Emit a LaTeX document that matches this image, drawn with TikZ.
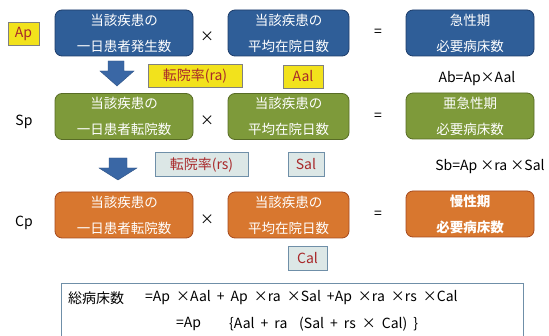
\documentclass[tikz,border=0pt]{standalone}
\usepackage{fontspec}
\setmainfont{Noto Sans CJK JP}
\definecolor{bfill}{HTML}{2F5E98}
\definecolor{bdraw}{HTML}{1E3D6A}
\definecolor{gfill}{HTML}{7E9A3A}
\definecolor{gdraw}{HTML}{586C26}
\definecolor{ofill}{HTML}{D8772F}
\definecolor{odraw}{HTML}{A54A1E}
\definecolor{yfill}{HTML}{F2E21C}
\definecolor{lfill}{HTML}{DCE7E6}
\definecolor{ldraw}{HTML}{6F8FA8}
\definecolor{tred}{HTML}{A8282A}
\definecolor{arr}{HTML}{3A67A5}
\newcommand\myWideSpace{\spaceskip=6pt\relax}
\begin{document}
\begin{tikzpicture}[x=1pt,y=-1pt,
  box/.style={rounded corners=7pt, line width=0.8pt, text=white, align=center,
    font=\fontsize{13.5}{26}\selectfont, inner sep=0pt, minimum height=46pt},
  bbox/.style={box, fill=bfill, draw=bdraw},
  gbox/.style={box, fill=gfill, draw=gdraw},
  obox/.style={box, fill=ofill, draw=odraw},
  w1/.style={minimum width=138pt},
  w2/.style={minimum width=121pt},
  w3/.style={minimum width=128pt},
  op/.style={font=\fontsize{14}{14}\selectfont, inner sep=0pt},
  lab/.style={font=\fontsize{14}{14}\selectfont, inner sep=0pt},
  form/.style={font=\fontsize{14}{14}\selectfont, inner sep=0pt, anchor=west},
  ytag/.style={fill=yfill, draw=black!50, line width=0.5pt, text=tred, font=\fontsize{14}{14}\selectfont, inner sep=0pt, minimum height=23pt},
  ltag/.style={fill=lfill, draw=ldraw, line width=0.6pt, text=tred, font=\fontsize{14}{14}\selectfont, inner sep=0pt, minimum height=24pt},
  blockarrow/.style={fill=arr, draw=arr!80!black, line width=0.4pt},
]
\useasboundingbox[fill=white] (0,0) rectangle (549,336);
% row 1
\node[bbox,w1] (a1) at (124,33) {当該疾患の\\一日患者発生数};
\node[bbox,w2] (a2) at (288.5,33) {当該疾患の\\平均在院日数};
\node[bbox,w3] (a3) at (470,33) {急性期\\必要病床数};
\node[op] (x1) at (207,37) {×};
\node[op] (e1) at (378,33) {=};
\node[ytag, minimum width=31pt] (ap) at (23.5,34) {Ap};
% arrows and tags 1
\draw[blockarrow] (108,61) -- (124,61) -- (124,71) -- (134,71) -- (117,86) -- (100,71) -- (108,71) -- cycle;
\node[ytag, minimum width=94pt, anchor=center] (ra) at (195,76) {転院率(ra)};
\node[ytag, minimum width=40pt] (aal) at (303,76.5) {Aal};
\node[lab] (ab) at (477,79) {Ab=Ap×Aal};
% row 2
\node[gbox,w1] (b1) at (124,116.5) {当該疾患の\\一日患者転院数};
\node[gbox,w2] (b2) at (288.5,116.5) {当該疾患の\\平均在院日数};
\node[gbox,w3] (b3) at (470,116) {亜急性期\\必要病床数};
\node[op] (x2) at (207,121) {×};
\node[op] (e2) at (378,117) {=};
\node[lab] (sp) at (24,122) {Sp};
% arrows and tags 2
\draw[blockarrow] (109,158) -- (127,158) -- (127,168) -- (137,168) -- (118,180) -- (99,168) -- (109,168) -- cycle;
\node[ltag, minimum width=93pt] (rs) at (201.5,164.5) {転院率(rs)};
\node[ltag, minimum width=36pt] (sal) at (306,164.5) {Sal};
\node[lab] (sb) at (490,167) {Sb=Ap ×ra ×Sal};
% row 3
\node[obox,w1] (c1) at (124,215) {当該疾患の\\一日患者転院数};
\node[obox,w2] (c2) at (288.5,215) {当該疾患の\\平均在院日数};
\node[obox,w3, font=\fontsize{13.5}{26}\selectfont\bfseries] (c3) at (470,214) {慢性期\\必要病床数};
\node[op] (x3) at (207,220) {×};
\node[op] (e3) at (378,215) {=};
\node[lab] (cp) at (24,223) {Cp};
\node[ltag, minimum width=39pt] (cal) at (307.5,258) {Cal};
% total
\draw[draw=ldraw, line width=0.6pt, fill=white] (61,283) rectangle (523,340);
\node[form] (t1) at (68,298) {総病床数};
\node[form] (t2) at (145,298) {\myWideSpace =Ap ×Aal + Ap ×ra ×Sal +Ap ×ra ×rs ×Cal};
\node[form] (t3) at (176,324) {=Ap};
\node[form] (t4) at (229,324) {\myWideSpace \{Aal + ra};
\node[form] (t5) at (299,324) {\myWideSpace (Sal + rs × Cal) \}};
\end{tikzpicture}
\end{document}
